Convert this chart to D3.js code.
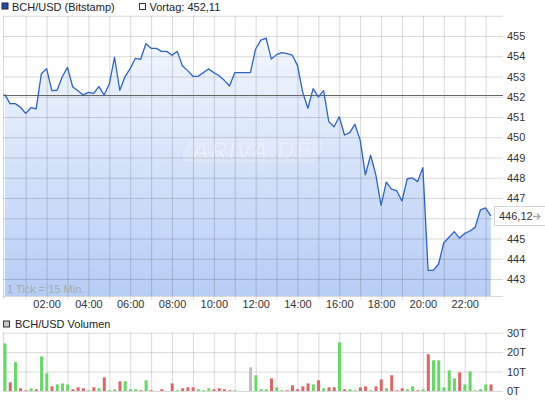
<!DOCTYPE html>
<html>
<head>
<meta charset="utf-8">
<script src="https://cdn.jsdelivr.net/npm/d3@7"></script>
<style>
body { margin: 0; background: #fff; }
svg { display: block; font-family: "Liberation Sans", Arial, sans-serif; }
</style>
</head>
<body>
<div id="chart"></div>
<script>
"use strict";

// one tick = 15 minutes, first tick at 00:00
var price = [452.12, 451.66, 451.66, 451.48, 451.18, 451.46, 451.40, 453.14, 453.39, 452.30,
             452.32, 452.99, 453.45, 452.48, 452.30, 452.09, 452.22, 452.17, 452.50, 452.09,
             452.63, 453.95, 452.32, 452.99, 453.39, 453.90, 453.85, 454.62, 454.39, 454.39,
             454.24, 454.24, 454.05, 454.24, 453.52, 453.29, 453.01, 453.01, 453.19, 453.37,
             453.19, 453.04, 452.81, 452.53, 453.19, 453.19, 453.19, 453.19, 454.36, 454.80,
             454.90, 453.86, 454.08, 454.18, 454.13, 454.06, 453.55, 452.23, 451.43, 452.40,
             451.99, 452.30, 450.77, 450.52, 451.01, 450.11, 450.23, 450.64, 449.86, 448.14,
             449.11, 448.14, 446.64, 447.78, 447.44, 447.36, 446.85, 447.95, 447.99, 447.81,
             448.50, 443.43, 443.43, 443.74, 444.79, 445.06, 445.34, 445.02, 445.25, 445.37,
             445.55, 446.41, 446.51, 446.12];

// volume in thousands (T)
var volume = [24.5, 4.5, 14.8, 1.4, 0.4, 1.4, 0.9, 17.8, 9.1, 2.4,
              3.4, 3.9, 3.4, 0.9, 1.9, 1.4, 0.4, 1.9, 1.4, 7.0,
              0.4, 0.9, 5.0, 5.0, 0.9, 0.9, 0.4, 5.5, 0.4, 0,
              0.9, 0, 3.9, 0.4, 1.4, 1.9, 1.9, 0.9, 0.4, 1.4,
              0.9, 1.4, 0.9, 0.4, 0.4, 0, 0, 12.2, 8.1, 0.9,
              0.9, 6.5, 1.9, 0.4, 0.4, 2.9, 0.9, 2.4, 3.9, 3.4,
              5.5, 1.4, 1.9, 1.9, 25.0, 0.9, 0.9, 0.4, 1.9, 2.4,
              0.4, 2.4, 6.0, 1.4, 8.1, 0.4, 1.4, 0.9, 2.4, 0.4,
              0.9, 18.9, 15.8, 15.8, 1.9, 10.6, 6.5, 9.6, 3.4, 10.1,
              0.4, 0.9, 3.4, 3.4];

// u = up (green), d = down (red), f = flat (grey)
var volSide = ["u","d","u","d","d","u","d","u","u","d",
               "u","u","u","d","d","d","u","d","u","d",
               "u","u","d","u","u","u","d","u","d","f",
               "d","f","d","u","d","d","d","u","u","u",
               "d","d","d","d","u","f","f","f","u","u",
               "u","d","u","u","d","d","d","d","d","u",
               "d","u","d","d","u","d","u","u","d","d",
               "u","d","d","u","d","d","d","u","u","d",
               "u","d","u","u","u","u","u","d","u","u",
               "u","u","u","d"];

var hourLabels = ["02:00", "04:00", "06:00", "08:00", "10:00", "12:00",
                  "14:00", "16:00", "18:00", "20:00", "22:00"];
var priceTicks = [443, 444, 445, 446, 447, 448, 449, 450, 451, 452, 453, 454, 455];
var volTicks = [0, 10, 20, 30];
var prevClose = 452.11;
var lastLabel = "446,12";

var W = 545, H = 401;
var left = 3, right = 503;

var svg = d3.select("#chart").append("svg")
    .attr("width", W)
    .attr("height", H);

var x = d3.scaleLinear().domain([0, 1430]).range([4.8, right]);
var y = d3.scaleLinear().domain([443, 455]).range([279, 36]);
var yv = d3.scaleLinear().domain([0, 30]).range([391, 332.7]);

var top1 = y(456), bottom1 = 296;

var hours = d3.range(1, 24).map(function(h){ return h * 60; });

var defs = svg.append("defs");
var grad = defs.append("linearGradient")
    .attr("id", "fill")
    .attr("gradientUnits", "userSpaceOnUse")
    .attr("x1", 0).attr("y1", top1)
    .attr("x2", 0).attr("y2", bottom1);
grad.append("stop").attr("offset", 0).attr("stop-color", "#f8fbff");
grad.append("stop").attr("offset", 1).attr("stop-color", "#b6cdf5");

// legend
svg.append("rect").attr("x", 2).attr("y", 3).attr("width", 6).attr("height", 6)
    .attr("fill", "#1f4fae").attr("stroke", "#223");
svg.append("text").attr("x", 12).attr("y", 11).attr("font-size", 11).attr("fill", "#222")
    .text("BCH/USD (Bitstamp)");
svg.append("rect").attr("x", 139.5).attr("y", 3.5).attr("width", 6).attr("height", 6)
    .attr("fill", "#fff").attr("stroke", "#333");
svg.append("text").attr("x", 149.5).attr("y", 11).attr("font-size", 11).attr("fill", "#222")
    .text("Vortag: " + d3.format(".2f")(prevClose).replace(".", ","));

// area + line
var pts = price.map(function(p, i){ return [i * 15, p]; });

svg.append("path")
    .datum(pts)
    .attr("fill", "url(#fill)")
    .attr("d", d3.area()
        .x(function(d){ return x(d[0]); })
        .y0(bottom1)
        .y1(function(d){ return y(d[1]); }));

// watermark
var wm = svg.append("g").attr("transform", "translate(252,150)");
wm.append("rect").attr("x", -68).attr("y", -13).attr("width", 138).attr("height", 26)
    .attr("rx", 7).attr("transform", "skewX(-18)")
    .attr("fill", "#ffffff").attr("fill-opacity", 0.18)
    .attr("stroke", "#c8ccd6").attr("stroke-opacity", 0.25);
wm.append("text").attr("text-anchor", "middle").attr("dy", "0.36em")
    .attr("font-size", 24).attr("font-weight", "bold").attr("font-style", "italic")
    .attr("letter-spacing", 1)
    .attr("fill", "#ffffff").attr("fill-opacity", 0.35)
    .attr("stroke", "#c0c6d2").attr("stroke-opacity", 0.25).attr("stroke-width", 0.8)
    .text("ARIVA.DE");

// grid (price panel)
var gridV = svg.append("g")
    .attr("transform", "translate(0," + bottom1 + ")")
    .call(d3.axisBottom(x).tickValues(hours).tickSize(-(bottom1 - top1)).tickFormat(""));
var gridH = svg.append("g")
    .attr("transform", "translate(" + right + ",0)")
    .call(d3.axisRight(y).tickValues(d3.range(443, 457)).tickSize(-(right - left)).tickFormat(""));
[gridV, gridH].forEach(function(g){
    g.select(".domain").remove();
    g.selectAll("line").attr("stroke", "#000").attr("stroke-opacity", 0.15);
});

svg.append("line").attr("x1", left).attr("x2", right).attr("y1", bottom1 + 0.5).attr("y2", bottom1 + 0.5)
    .attr("stroke", "#000").attr("stroke-opacity", 0.15);
svg.append("line").attr("x1", left + 0.5).attr("x2", left + 0.5).attr("y1", top1).attr("y2", bottom1 + 3)
    .attr("stroke", "#000").attr("stroke-opacity", 0.15);

// previous close
svg.append("line")
    .attr("x1", left).attr("x2", right)
    .attr("y1", Math.round(y(prevClose)) + 0.5).attr("y2", Math.round(y(prevClose)) + 0.5)
    .attr("stroke", "#666").attr("stroke-width", 1);

svg.append("path")
    .datum(pts)
    .attr("fill", "none")
    .attr("stroke", "#2c63c5")
    .attr("stroke-width", 1.3)
    .attr("stroke-linejoin", "round")
    .attr("d", d3.line()
        .x(function(d){ return x(d[0]); })
        .y(function(d){ return y(d[1]); }));

svg.append("text").attr("x", 7).attr("y", 293).attr("font-size", 11).attr("fill", "#aaa")
    .text("1 Tick = 15 Min.");

// x axis
var xAxis = svg.append("g")
    .attr("transform", "translate(0," + (bottom1 + 0.5) + ")")
    .call(d3.axisBottom(x).tickValues(hours).tickSizeInner(3).tickSizeOuter(0).tickPadding(1)
        .tickFormat(function(d){
            var h = d / 60;
            return h % 2 === 0 ? hourLabels[h / 2 - 1] : "";
        }));
xAxis.select(".domain").remove();
xAxis.selectAll("line").attr("stroke", "#000").attr("stroke-opacity", 0.15);
xAxis.selectAll("text").attr("font-size", 11).attr("fill", "#333").attr("font-family", null);

// y axis labels (the one under the last-value box is covered)
var lastY = y(price[price.length - 1]);
var yAxis = svg.append("g")
    .attr("transform", "translate(" + right + ",0)")
    .call(d3.axisRight(y)
        .tickValues(priceTicks.filter(function(t){ return Math.abs(y(t) - lastY) > 12; }))
        .tickSize(0).tickPadding(4));
yAxis.select(".domain").remove();
yAxis.selectAll("text").attr("font-size", 11).attr("fill", "#333").attr("font-family", null);

// last value box
svg.append("rect").attr("x", 494.5).attr("y", Math.round(lastY) - 9.5)
    .attr("width", 52).attr("height", 19)
    .attr("fill", "#fff").attr("stroke", "#d4d4d4");
svg.append("text").attr("x", 499).attr("y", lastY).attr("dy", "0.35em")
    .attr("font-size", 11).attr("fill", "#333").text(lastLabel);
svg.append("path")
    .attr("d", "M533," + (Math.round(lastY) + 0.5) + "h7 M537," + (Math.round(lastY) - 2.5) + "l3,3l-3,3")
    .attr("fill", "none").attr("stroke", "#aaa").attr("stroke-width", 1.3);

// volume panel
svg.append("rect").attr("x", 3.5).attr("y", 321).attr("width", 6).attr("height", 6)
    .attr("fill", "#c8c8c8").attr("stroke", "#333");
svg.append("text").attr("x", 15).attr("y", 328).attr("font-size", 11).attr("fill", "#222")
    .text("BCH/USD Volumen");

var vGridV = svg.append("g")
    .attr("transform", "translate(0," + yv(0) + ")")
    .call(d3.axisBottom(x).tickValues(hours).tickSize(-(yv(0) - yv(30))).tickFormat(""));
var vGridH = svg.append("g")
    .attr("transform", "translate(" + right + ",0)")
    .call(d3.axisRight(yv).tickValues(volTicks).tickSize(-(right - left)).tickPadding(4)
        .tickFormat(function(d){ return d + "T"; }));
[vGridV, vGridH].forEach(function(g){
    g.select(".domain").remove();
    g.selectAll("line").attr("stroke", "#000").attr("stroke-opacity", 0.15);
});
vGridH.selectAll("text").attr("font-size", 11).attr("fill", "#333").attr("font-family", null);
svg.append("line").attr("x1", left + 0.5).attr("x2", left + 0.5).attr("y1", yv(30)).attr("y2", yv(0))
    .attr("stroke", "#000").attr("stroke-opacity", 0.15);

var sideColor = { u: "#66d866", d: "#dd6666", f: "#bdbdbd" };

svg.selectAll("rect.vol")
    .data(volume)
    .enter()
    .append("rect")
    .attr("class", "vol")
    .attr("x", function(d, i){ return x(i * 15) - 1.3; })
    .attr("y", function(d){ return yv(d); })
    .attr("width", 3)
    .attr("height", function(d){ return yv(0) - yv(d); })
    .attr("fill", function(d, i){ return sideColor[volSide[i]]; });
</script>
</body>
</html>
